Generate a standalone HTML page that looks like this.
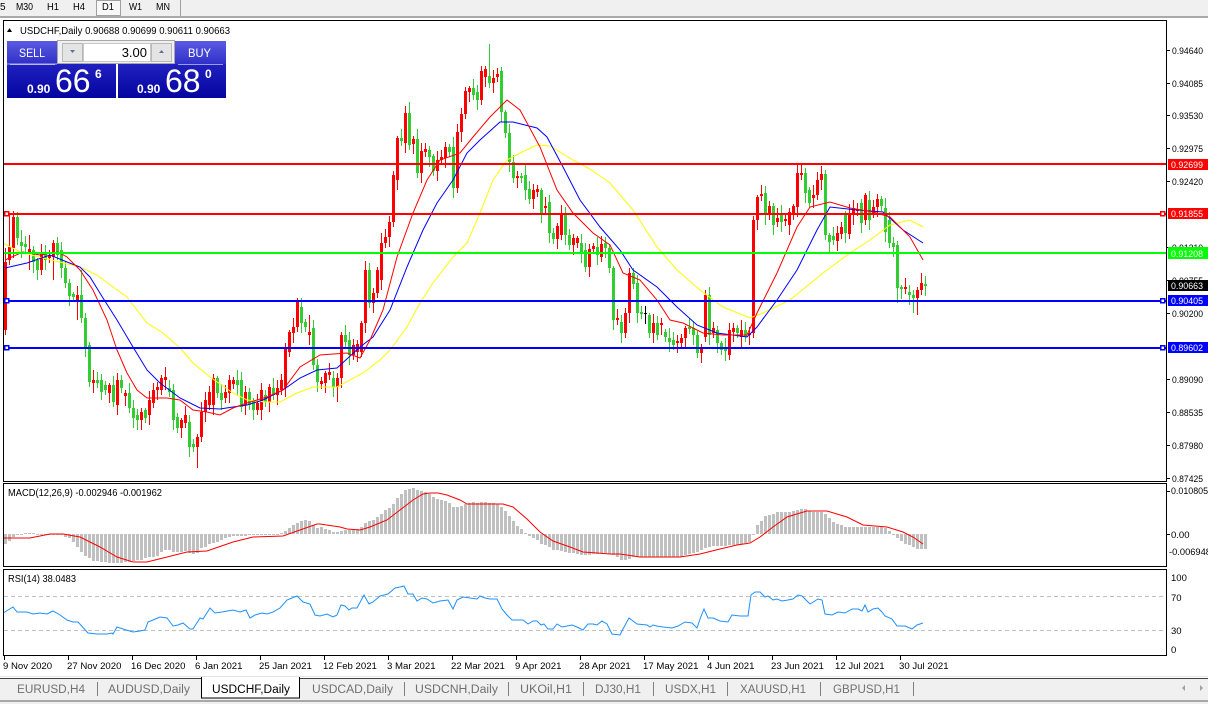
<!DOCTYPE html>
<html><head><meta charset="utf-8">
<style>
html,body{margin:0;padding:0;background:#fff;width:1208px;height:704px;overflow:hidden}
svg{display:block;font-family:"Liberation Sans",Arial,sans-serif}
.ax{font-size:9.5px;fill:#000}
.tb{font-size:10px;fill:#000}
.tab{font-size:11.5px;fill:#707070}
.dt{font-size:9.6px;fill:#000}
</style></head><body>
<svg id="s" width="1208" height="704" viewBox="0 0 1208 704" xmlns="http://www.w3.org/2000/svg">
<defs>
<linearGradient id="blk" x1="0" y1="0" x2="0" y2="1"><stop offset="0" stop-color="#3434d4"/><stop offset="1" stop-color="#0404a0"/></linearGradient>
<linearGradient id="btn" x1="0" y1="0" x2="0" y2="1"><stop offset="0" stop-color="#5a5ae2"/><stop offset="1" stop-color="#3030c8"/></linearGradient>
<clipPath id="cm"><rect x="4" y="21" width="1162" height="460"/></clipPath>
<clipPath id="cmacd"><rect x="4" y="484" width="1162" height="82"/></clipPath>
<clipPath id="crsi"><rect x="4" y="570" width="1162" height="85"/></clipPath>
</defs>
<rect width="1208" height="704" fill="#fff"/>

<!-- top toolbar -->
<rect x="0" y="0" width="1208" height="16" fill="#f0f0f0"/>
<rect x="0" y="16" width="1208" height="2" fill="#a9a9a9"/>
<rect x="96.5" y="0.5" width="24" height="15" fill="#f8f8f8" stroke="#a0a0a0"/>
<line x1="180.5" y1="0" x2="180.5" y2="16" stroke="#a0a0a0"/>
<text class="tb" x="0" y="10">5</text>
<text class="tb" x="16" y="10" textLength="17" lengthAdjust="spacingAndGlyphs">M30</text>
<text class="tb" x="47" y="10" textLength="12" lengthAdjust="spacingAndGlyphs">H1</text>
<text class="tb" x="73" y="10" textLength="12" lengthAdjust="spacingAndGlyphs">H4</text>
<text class="tb" x="102" y="10" textLength="12" lengthAdjust="spacingAndGlyphs">D1</text>
<text class="tb" x="129" y="10" textLength="13" lengthAdjust="spacingAndGlyphs">W1</text>
<text class="tb" x="156" y="10" textLength="14" lengthAdjust="spacingAndGlyphs">MN</text>

<g shape-rendering="crispEdges">
<!-- pane frames -->
<rect x="3.5" y="20.5" width="1163" height="461" fill="none" stroke="#000"/>
<rect x="3.5" y="483.5" width="1163" height="83" fill="none" stroke="#000"/>
<rect x="3.5" y="569.5" width="1163" height="86" fill="none" stroke="#000"/>
</g>

<!-- candles -->
<g id="cd" clip-path="url(#cm)" shape-rendering="crispEdges"></g>

<!-- moving averages -->
<g clip-path="url(#cm)" fill="none" stroke-width="1">
<polyline stroke="#ffff00" points="3,243 20,252 43,258 80,267 97,275 113,287 127,297 133,305 147,323 163,333 180,348 193,363 210,377 233,393 247,400 267,402 280,402 297,393 313,387 337,387 363,373 380,360 390,350 407,327 420,303 433,283 453,257 467,243 480,213 493,180 507,160 520,153 537,145 550,146 573,160 590,169 610,183 633,210 657,247 677,270 700,290 723,307 750,318 763,313 790,300 823,273 850,253 870,240 890,225 910,220 923,227"/>
<polyline stroke="#0000ff" points="5,268 27,263 50,255 67,262 80,267 90,277 103,298 117,320 133,347 147,370 160,383 180,398 200,408 220,409 233,407 247,405 263,400 283,390 300,378 317,370 337,368 360,347 373,337 390,310 407,267 423,230 437,203 453,180 467,153 480,140 500,122 513,122 537,128 547,137 563,167 580,200 600,227 620,250 633,270 657,287 677,307 697,325 717,333 747,337 757,327 777,300 797,270 817,230 830,207 857,210 883,212 903,230 923,243"/>
<polyline stroke="#ff0000" points="5,260 23,252 40,255 58,252 67,257 80,270 93,290 107,320 117,350 127,373 137,390 147,398 167,398 180,400 193,410 207,412 220,415 233,408 247,403 267,397 283,390 300,367 320,355 347,353 360,358 370,340 383,310 397,257 413,213 427,180 440,160 460,153 473,137 490,117 507,100 520,110 540,147 557,190 573,213 593,233 610,245 623,273 640,280 657,300 670,320 683,323 703,333 723,335 747,335 757,313 777,273 797,227 810,207 830,202 850,208 873,212 890,217 910,237 923,260"/>
</g>

<!-- horizontal levels -->
<g shape-rendering="crispEdges">
<rect x="4" y="163" width="1162" height="2" fill="#ff0000"/>
<rect x="4" y="213" width="1162" height="2" fill="#ff0000"/>
<rect x="4" y="252" width="1162" height="2" fill="#00ff00"/>
<rect x="4" y="300" width="1162" height="2" fill="#0000ff"/>
<rect x="4" y="347" width="1162" height="2" fill="#0000ff"/>
<rect x="4.5" y="211.5" width="4" height="4" fill="#fff" stroke="#ff0000" stroke-width="1.5"/>
<rect x="1160.5" y="211.5" width="4" height="4" fill="#fff" stroke="#ff0000" stroke-width="1.5"/>
<rect x="4.5" y="298.5" width="4" height="4" fill="#fff" stroke="#0000ff" stroke-width="1.5"/>
<rect x="1160.5" y="298.5" width="4" height="4" fill="#fff" stroke="#0000ff" stroke-width="1.5"/>
<rect x="4.5" y="345.5" width="4" height="4" fill="#fff" stroke="#0000ff" stroke-width="1.5"/>
<rect x="1160.5" y="345.5" width="4" height="4" fill="#fff" stroke="#0000ff" stroke-width="1.5"/>
</g>

<!-- header -->
<polygon points="7,32 12,32 9.5,28" fill="#000"/>
<text x="20" y="34" font-size="10" textLength="210" lengthAdjust="spacingAndGlyphs">USDCHF,Daily  0.90688 0.90699 0.90611 0.90663</text>

<!-- trade panel -->
<rect x="7" y="41" width="109" height="57" fill="url(#blk)"/>
<rect x="118" y="41" width="108" height="57" fill="url(#blk)"/>
<rect x="7" y="41" width="50" height="23" fill="url(#btn)"/>
<rect x="174" y="41" width="52" height="23" fill="url(#btn)"/>
<line x1="10" y1="64.5" x2="55" y2="64.5" stroke="#9a9af0"/>
<line x1="178" y1="64.5" x2="223" y2="64.5" stroke="#9a9af0"/>
<rect x="7" y="63" width="50" height="2" fill="#fff" opacity="0.3"/>
<rect x="57.5" y="40.5" width="117" height="23" fill="#f0f0f0" stroke="#a8a8a8"/>
<rect x="62.5" y="43.5" width="20" height="18" fill="#e4e4e4" stroke="#b8b8b8"/>
<rect x="83.5" y="43.5" width="67" height="18" fill="#fff" stroke="#c8c8c8"/>
<rect x="151.5" y="43.5" width="20" height="18" fill="#e4e4e4" stroke="#b8b8b8"/>
<polygon points="70,50 75,50 72.5,53" fill="#6070a0"/>
<polygon points="159,53 164,53 161.5,50" fill="#6070a0"/>
<text x="147" y="57" font-size="13" text-anchor="end" fill="#000">3.00</text>
<text x="19" y="57" font-size="12" fill="#fff" textLength="26" lengthAdjust="spacingAndGlyphs">SELL</text>
<text x="188" y="57" font-size="12" fill="#fff" textLength="23" lengthAdjust="spacingAndGlyphs">BUY</text>
<text x="27" y="93" font-size="12" font-weight="bold" fill="#fff">0.90</text>
<text x="55" y="92" font-size="32" fill="#fff">66</text>
<text x="95" y="78" font-size="12" font-weight="bold" fill="#fff">6</text>
<text x="137" y="93" font-size="12" font-weight="bold" fill="#fff">0.90</text>
<text x="165" y="92" font-size="32" fill="#fff">68</text>
<text x="205" y="78" font-size="12" font-weight="bold" fill="#fff">0</text>

<!-- price axis -->
<g stroke="#000" shape-rendering="crispEdges">
<line x1="1166" y1="50.5" x2="1170" y2="50.5"/><line x1="1166" y1="83.5" x2="1170" y2="83.5"/>
<line x1="1166" y1="115.5" x2="1170" y2="115.5"/><line x1="1166" y1="148.5" x2="1170" y2="148.5"/>
<line x1="1166" y1="181.5" x2="1170" y2="181.5"/><line x1="1166" y1="247.5" x2="1170" y2="247.5"/>
<line x1="1166" y1="280.5" x2="1170" y2="280.5"/><line x1="1166" y1="313.5" x2="1170" y2="313.5"/>
<line x1="1166" y1="379.5" x2="1170" y2="379.5"/><line x1="1166" y1="412.5" x2="1170" y2="412.5"/>
<line x1="1166" y1="445.5" x2="1170" y2="445.5"/><line x1="1166" y1="478.5" x2="1170" y2="478.5"/>
<line x1="1166" y1="491.5" x2="1170" y2="491.5"/><line x1="1166" y1="534.5" x2="1170" y2="534.5"/>
</g>
<g class="ax">
<text x="1172" y="54" textLength="31" lengthAdjust="spacingAndGlyphs">0.94640</text>
<text x="1172" y="87" textLength="31" lengthAdjust="spacingAndGlyphs">0.94085</text>
<text x="1172" y="119" textLength="31" lengthAdjust="spacingAndGlyphs">0.93530</text>
<text x="1172" y="152" textLength="31" lengthAdjust="spacingAndGlyphs">0.92975</text>
<text x="1172" y="185" textLength="31" lengthAdjust="spacingAndGlyphs">0.92420</text>
<text x="1172" y="251" textLength="31" lengthAdjust="spacingAndGlyphs">0.91310</text>
<text x="1172" y="284" textLength="31" lengthAdjust="spacingAndGlyphs">0.90755</text>
<text x="1172" y="317" textLength="31" lengthAdjust="spacingAndGlyphs">0.90200</text>
<text x="1172" y="383" textLength="31" lengthAdjust="spacingAndGlyphs">0.89090</text>
<text x="1172" y="416" textLength="31" lengthAdjust="spacingAndGlyphs">0.88535</text>
<text x="1172" y="449" textLength="31" lengthAdjust="spacingAndGlyphs">0.87980</text>
<text x="1172" y="482" textLength="31" lengthAdjust="spacingAndGlyphs">0.87425</text>
</g>
<g shape-rendering="crispEdges">
<rect x="1168" y="159" width="40" height="11" fill="#ff0000"/>
<rect x="1168" y="208" width="40" height="11" fill="#ff0000"/>
<rect x="1168" y="247" width="40" height="12" fill="#00ff00"/>
<rect x="1168" y="280" width="40" height="11" fill="#000"/>
<rect x="1168" y="295" width="40" height="11" fill="#0000ff"/>
<rect x="1168" y="342" width="40" height="11" fill="#0000ff"/>
</g>
<g class="ax" style="fill:#fff">
<text x="1171" y="168" textLength="32" lengthAdjust="spacingAndGlyphs">0.92699</text>
<text x="1171" y="217" textLength="32" lengthAdjust="spacingAndGlyphs">0.91855</text>
<text x="1171" y="257" textLength="32" lengthAdjust="spacingAndGlyphs">0.91208</text>
<text x="1171" y="289" textLength="32" lengthAdjust="spacingAndGlyphs">0.90663</text>
<text x="1171" y="304" textLength="32" lengthAdjust="spacingAndGlyphs">0.90405</text>
<text x="1171" y="351" textLength="32" lengthAdjust="spacingAndGlyphs">0.89602</text>
</g>

<!-- MACD -->
<g id="hist" clip-path="url(#cmacd)" shape-rendering="crispEdges"></g>
<polyline clip-path="url(#cmacd)" fill="none" stroke="#ff0000" points="3,538 30,538 50,534 63,534 80,537 100,547 117,557 133,562 147,562 167,557 187,552 207,551 233,542 253,537 283,536 300,530 317,524 320,524 340,527 347,529 360,530 370,527 387,520 400,510 413,500 423,494 430,493 438,493 447,495 460,500 467,504 477,504 503,504 513,507 527,519 540,532 553,541 570,547 583,552 597,553 610,554 620,554 640,557 680,557 700,554 720,549 737,545 750,543 760,537 773,527 787,517 800,513 807,511 827,511 847,517 863,525 887,527 903,532 913,537 923,544"/>
<text x="8" y="496" font-size="10" textLength="154" lengthAdjust="spacingAndGlyphs">MACD(12,26,9) -0.002946 -0.001962</text>
<g class="ax">
<text x="1171" y="494" textLength="37" lengthAdjust="spacingAndGlyphs">0.010805</text>
<text x="1171" y="538">0.00</text>
<text x="1169" y="555" textLength="42" lengthAdjust="spacingAndGlyphs">-0.006948</text>
</g>

<!-- RSI -->
<g shape-rendering="crispEdges" stroke="#c0c0c0" stroke-dasharray="4,3">
<line x1="4" y1="596.5" x2="1166" y2="596.5"/>
<line x1="4" y1="630.5" x2="1166" y2="630.5"/>
</g>
<polyline clip-path="url(#crsi)" fill="none" stroke="#1e90ff" points="3,613 13,607 17,612 27,612 33,614 40,613 47,614 53,611 60,615 67,620 73,622 78,622 88,633 97,634 107,634 112,633 113,634 117,627 123,629 133,632 140,631 145,630 148,622 153,620 160,617 167,618 173,626 178,625 183,623 190,629 193,629 200,618 203,619 210,608 215,613 222,612 233,610 240,612 246,610 250,618 255,615 262,613 267,614 273,612 280,608 287,600 297,596 303,602 310,604 315,615 320,616 327,614 333,617 337,615 341,605 345,606 349,610 352,608 357,608 364,595 369,604 373,602 380,596 388,594 395,588 400,587 404,586 408,594 413,594 417,601 422,598 427,599 433,603 440,601 448,600 453,609 457,600 463,597 470,598 477,599 480,596 485,598 490,599 497,599 502,609 507,615 512,620 523,620 528,624 533,621 537,621 541,625 544,624 548,629 553,629 557,624 562,627 567,626 572,625 577,627 583,630 588,624 593,624 597,625 602,621 607,624 612,634 620,635 623,629 629,618 637,624 647,625 650,627 653,625 657,626 663,627 672,628 678,626 685,622 692,623 697,628 700,619 704,609 708,618 713,618 720,621 728,622 732,615 740,616 748,616 751,595 755,592 760,592 765,597 768,596 773,600 777,599 782,601 788,600 793,599 798,595 802,596 810,604 818,599 822,600 825,614 832,615 838,612 845,613 852,609 858,609 862,611 865,605 868,612 873,609 878,608 882,612 885,616 892,619 897,626 905,626 912,629 917,625 923,623"/>
<text x="8" y="582" font-size="10" textLength="68" lengthAdjust="spacingAndGlyphs">RSI(14) 38.0483</text>
<g class="ax">
<text x="1171" y="581">100</text>
<text x="1171" y="601">70</text>
<text x="1171" y="634">30</text>
<text x="1171" y="653">0</text>
</g>

<!-- date axis -->
<g stroke="#000" shape-rendering="crispEdges">
<line x1="4.5" y1="656" x2="4.5" y2="660"/><line x1="68.5" y1="656" x2="68.5" y2="660"/>
<line x1="132.5" y1="656" x2="132.5" y2="660"/><line x1="196.5" y1="656" x2="196.5" y2="660"/>
<line x1="260.5" y1="656" x2="260.5" y2="660"/><line x1="324.5" y1="656" x2="324.5" y2="660"/>
<line x1="388.5" y1="656" x2="388.5" y2="660"/><line x1="452.5" y1="656" x2="452.5" y2="660"/>
<line x1="516.5" y1="656" x2="516.5" y2="660"/><line x1="580.5" y1="656" x2="580.5" y2="660"/>
<line x1="644.5" y1="656" x2="644.5" y2="660"/><line x1="708.5" y1="656" x2="708.5" y2="660"/>
<line x1="772.5" y1="656" x2="772.5" y2="660"/><line x1="836.5" y1="656" x2="836.5" y2="660"/>
<line x1="900.5" y1="656" x2="900.5" y2="660"/>
</g>
<g class="dt">
<text x="3" y="669">9 Nov 2020</text>
<text x="67" y="669">27 Nov 2020</text>
<text x="131" y="669">16 Dec 2020</text>
<text x="195" y="669">6 Jan 2021</text>
<text x="259" y="669">25 Jan 2021</text>
<text x="323" y="669">12 Feb 2021</text>
<text x="387" y="669">3 Mar 2021</text>
<text x="451" y="669">22 Mar 2021</text>
<text x="515" y="669">9 Apr 2021</text>
<text x="579" y="669">28 Apr 2021</text>
<text x="643" y="669">17 May 2021</text>
<text x="707" y="669">4 Jun 2021</text>
<text x="771" y="669">23 Jun 2021</text>
<text x="835" y="669">12 Jul 2021</text>
<text x="899" y="669">30 Jul 2021</text>
</g>

<!-- tab bar -->
<g shape-rendering="crispEdges">
<rect x="0" y="676" width="1208" height="1" fill="#e4e4e4"/>
<rect x="0" y="679" width="1208" height="25" fill="#f0f0f0"/>
<rect x="0" y="678" width="1208" height="1" fill="#404040"/>
<rect x="0" y="700" width="1208" height="2" fill="#a8a8a8"/>
<rect x="201.5" y="677.5" width="98" height="20.5" fill="#fff" stroke="#000"/>
<rect x="202" y="677" width="97" height="2" fill="#fff"/>
</g>
<g stroke="#808080" shape-rendering="crispEdges">
<line x1="97.5" y1="682" x2="97.5" y2="696"/>
<line x1="404.5" y1="682" x2="404.5" y2="696"/>
<line x1="508.5" y1="682" x2="508.5" y2="696"/>
<line x1="583.5" y1="682" x2="583.5" y2="696"/>
<line x1="653.5" y1="682" x2="653.5" y2="696"/>
<line x1="727.5" y1="682" x2="727.5" y2="696"/>
<line x1="820.5" y1="682" x2="820.5" y2="696"/>
<line x1="913.5" y1="682" x2="913.5" y2="696"/>
</g>
<g class="tab">
<text x="17" y="693" textLength="68" lengthAdjust="spacingAndGlyphs">EURUSD,H4</text>
<text x="108" y="693" textLength="82" lengthAdjust="spacingAndGlyphs">AUDUSD,Daily</text>
<text x="212" y="693" textLength="78" lengthAdjust="spacingAndGlyphs" style="fill:#000">USDCHF,Daily</text>
<text x="312" y="693" textLength="81" lengthAdjust="spacingAndGlyphs">USDCAD,Daily</text>
<text x="415" y="693" textLength="83" lengthAdjust="spacingAndGlyphs">USDCNH,Daily</text>
<text x="520" y="693" textLength="52" lengthAdjust="spacingAndGlyphs">UKOil,H1</text>
<text x="595" y="693" textLength="46" lengthAdjust="spacingAndGlyphs">DJ30,H1</text>
<text x="665" y="693" textLength="51" lengthAdjust="spacingAndGlyphs">USDX,H1</text>
<text x="740" y="693" textLength="66" lengthAdjust="spacingAndGlyphs">XAUUSD,H1</text>
<text x="833" y="693" textLength="67" lengthAdjust="spacingAndGlyphs">GBPUSD,H1</text>
</g>
<polygon points="1185,685 1185,691 1182,688" fill="#a0a0a0"/>
<polygon points="1200,685 1200,691 1203,688" fill="#a0a0a0"/>
</svg>
<script>
(function(){
var C=["r262,330,248,335","r247,260,213","r217,248,211","g217,238,212,245","g242,246,230,258","g244,247","r249,253,235,270","g250,262,,273","g260,270","r253,270",
"g252,260","r255,258","r243,257,240,280","g243,255,237","g250,268","g268,283","g283,296","g294,297","r295,302,286,320","g295,318,270",
"g318,347","g345,382","r380,383","g380,383","g380,392,,400","g385,390","r385,393","g385,402","r380,405","g380,388",
"r393,396","g393,408","g408,418","g415,420,,430","r412,420","g410,418","r400,415","r390,403","r387,390","r378,390",
"r377,380","g388,392","g390,420","g417,428","r420,428","r415,423","g422,447","g444,447","r437,447,,468","r412,437",
"r400,412","r392,405","r378,405","g378,393","g393,400","r392,398","r380,393","r380,384","g380,385","g380,407",
"r392,405","g392,405","g400,410","r403,410","r390,410","g395,402","r387,402","g388,395","r388,395","r380,390",
"r347,387","r332,352","r327,333","r302,327,298","g307,323,298","g322,327","r332,335,315","g328,365","g365,382","r381,384",
"r373,383","r372,375","g378,387","r378,387,,402","r335,378","g335,342","g340,355","r345,355","r344,352","r323,352",
"r270,323","g270,303","r293,303","r270,293","r243,280","r237,243","r222,237","r175,222","r138,180","g138,141",
"r113,143","g113,145,102","r139,144","g139,173","r151,173","r149,152","g150,157","g156,171","r160,171","r157,160",
"r147,158","g147,152","g147,188","r132,188","r114,132","r91,114","r88,92","g88,95","g92,100","r71,100",
"r69,77","g76,83,44","r78,83","r74,77","g71,112","g112,133","g133,162","g162,178","r176,178","g176,178",
"g175,190","g189,199","r190,199","r189,192","g190,213","r206,208","g202,233","g233,239","r226,239","r215,235",
"g215,235","g235,245","r238,245","r238,243","g243,253","g250,267","r249,267","r246,249","g247,255","r244,257",
"g243,248","g248,268","g268,320","r318,320","g322,333","r313,333","r273,313,268","g273,284,268","g283,313","g312,314",
"k313,314,306,324","g315,333","r323,333","g323,335","r323,325","g332,337","g338,342","g340,345","r341,343","r338,343",
"r328,338","g327,329","g328,335","g335,353","r347,353","r295,337,290","g295,335","r328,333","g330,343","g343,350",
"g347,351","r330,355","r328,332","g328,333","r330,337","g330,337","r333,335","r220,333","r197,220","r194,196",
"g193,215","r206,215","g206,225","r218,222","g213,222","r219,221","r212,225","r206,215","r173,207,163","r173,175,163",
"g173,193","g190,203","r195,198","r180,195","r174,180,166","g174,235","g235,242","g236,240","r233,241","r227,234",
"g214,233","r214,234","r208,215","r209,211","g203,223","r195,220","g200,220","r207,213","r199,207","g199,206",
"g208,232","g220,243","g243,247","g245,288,,303","g287,289","r287,289","g292,295","g295,298,,313","r290,298,,315","r283,290",
"g284,286"];
var h='';
for(var i=0;i<C.length;i++){
 var k=i+1,s=C[i],c=s.charAt(0),a=s.slice(1).split(',');
 var t=+a[0],b=+a[1];
 var wt=(a[2]&&a[2]!=='')?+a[2]:t-(2+(k*7)%9);
 var wb=(a[3]&&a[3]!=='')?+a[3]:b+(2+(k*5+3)%10);
 var x=1+4*k;
 var col=c==='r'?'#ff0000':(c==='g'?'#32cd32':'#000000');
 h+='<rect x="'+x+'" y="'+wt+'" width="1" height="'+(wb-wt)+'" fill="'+col+'"/>';
 if(c==='k'){h+='<rect x="'+(x-1)+'" y="'+t+'" width="3" height="1" fill="'+col+'"/>';}
 else h+='<rect x="'+(x-1)+'" y="'+t+'" width="3" height="'+Math.max(1,b-t)+'" fill="'+col+'"/>';
}
document.getElementById('cd').innerHTML=h;
var H=[544,541,537,535,534,533,533,533,534,534,
534,534,534,535,535,537,538,542,547,552,
556,558,561,561,562,562,563,563,563,563,
562,562,561,560,560,558,557,557,556,552,
550,550,552,552,552,551,553,554,553,548,
547,544,543,542,540,538,537,536,536,536,
536,535,535,535,535,535,534,534,534,533,
531,528,525,523,521,520,521,525,528,527,
529,530,532,532,531,530,530,529,529,527,
523,521,520,517,514,510,508,504,498,494,
490,489,488,490,491,492,494,497,499,500,
501,503,507,507,506,504,503,502,503,502,
502,503,503,504,507,511,516,521,526,529,
533,536,538,540,544,545,547,550,550,551,
552,553,553,554,555,555,555,554,554,553,
553,554,555,557,560,560,559,557,557,557,
557,557,557,557,557,557,557,557,557,557,
555,554,553,552,550,548,547,546,546,546,
546,545,545,545,544,543,542,535,525,521,
516,515,514,512,512,512,512,511,510,509,
509,511,512,512,512,514,518,522,524,525,
527,527,527,527,527,527,527,527,527,527,
528,531,535,538,541,544,545,547,549,549,549];
var z=534,g='';
for(var j=0;j<H.length;j++){
 var k2=j+1,x2=1+4*k2,y=H[j];
 var y0=Math.min(z,y),y1=Math.max(z,y);
 if(y1-y0<1){y1=y0+1;}
 g+='<rect x="'+(x2-1)+'" y="'+y0+'" width="3" height="'+(y1-y0)+'" fill="#c0c0c0"/>';
}
document.getElementById('hist').innerHTML=g;
})();
</script>
</body></html>
